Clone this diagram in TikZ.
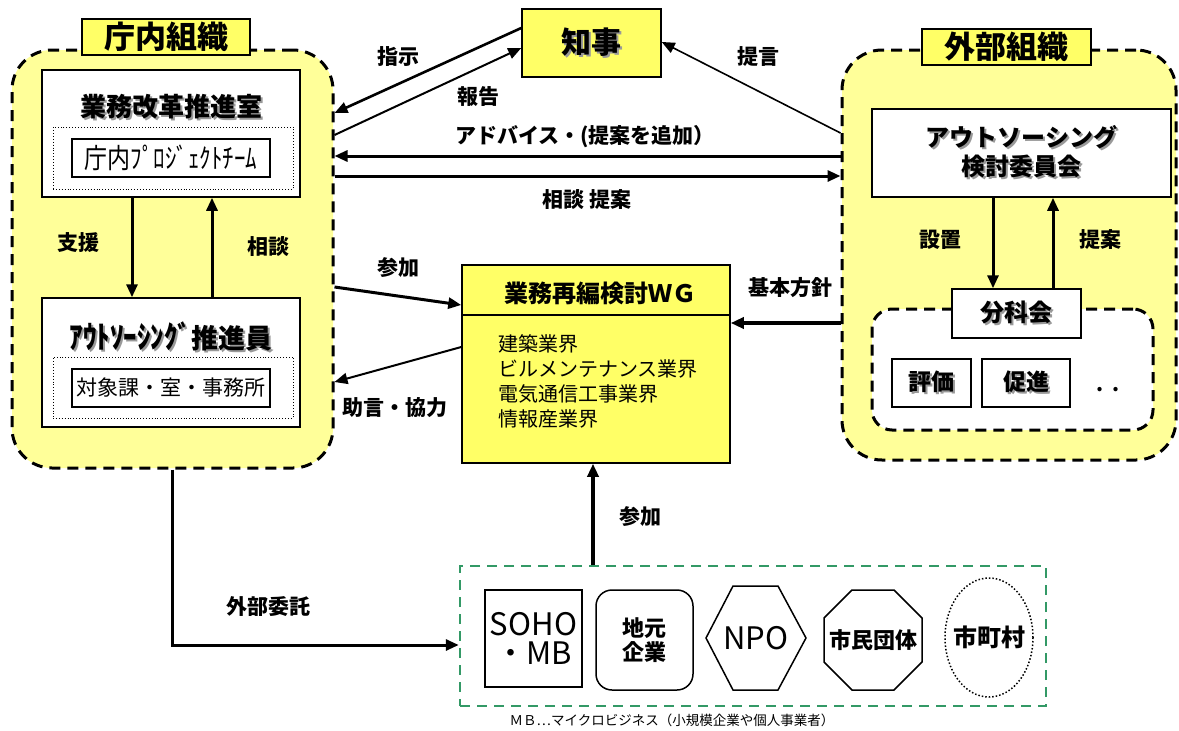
\documentclass[tikz,border=0pt]{standalone}
\usepackage{fontspec}
\setmainfont{Noto Sans CJK JP}
\usetikzlibrary{arrows.meta}
\definecolor{ly}{RGB}{255,255,153}
\definecolor{dy}{RGB}{255,255,102}
\definecolor{gr}{RGB}{51,153,102}
\newcommand{\fs}[1]{\fontsize{#1}{#1}\selectfont}
\newcommand{\shd}[1]{\makebox[0pt][l]{\hspace{2pt}\raisebox{-2pt}{\textcolor{black!40}{#1}}}#1}
\tikzset{
  cont/.style={draw, line width=3pt, dash pattern=on 11pt off 7pt, fill=ly, rounded corners=40pt, inner sep=0pt},
  wbox/.style={draw, fill=white, line width=1.5pt, inner sep=0pt},
  ybox/.style={draw, fill=dy, line width=1.5pt, inner sep=0pt},
  dotbox/.style={draw, dotted, line width=0.9pt, inner sep=0pt},
  arr/.style={-{Triangle[length=13pt,width=11pt]}, line width=3pt},
  tarr/.style={-{Triangle[length=13pt,width=11pt]}, line width=1.6pt},
  lab/.style={font=\fs{21}\bfseries},
  shp/.style={draw, line width=1.5pt, fill=white},
}
\begin{document}
\begin{tikzpicture}[x=1pt,y=-1pt]
\useasboundingbox (0,0) rectangle (1179,731);
% y/x levels
\foreach \v in {28,113,135,133,42,48,156,176,287,305,347,382,323,315,645}{\coordinate (y\v) at (0,\v);}
\coordinate (x593) at (593,0);

% ---------- left container ----------
\node[cont, minimum width=321pt, minimum height=418pt] (lc) at (172.5,259) {};
\node[ybox, minimum width=168pt, minimum height=36pt, font=\fs{31}\bfseries] (lct) at (166,37) {庁内組織};

\node[wbox, minimum width=258pt, minimum height=127pt] (b1) at (171,133.5) {};
\node[font=\fs{26}\bfseries] (b1t) at (171,108) {\shd{業務改革推進室}};
\node[dotbox, minimum width=240pt, minimum height=62pt] (b1d) at (173,158) {};
\node[wbox, minimum width=198pt, minimum height=38pt, font=\fs{23}] (b1i) at (171,158) {\scalebox{1}[1.2]{庁内ﾌﾟﾛｼﾞｪｸﾄﾁｰﾑ}};

\node[wbox, minimum width=258pt, minimum height=129pt] (b2) at (171,362.5) {};
\node[font=\fs{27}\bfseries] (b2t) at (171,337) {\shd{\scalebox{1}[1.15]{ｱｳﾄｿｰｼﾝｸﾞ}推進員}};
\node[dotbox, minimum width=240pt, minimum height=61pt] (b2d) at (173,387.5) {};
\node[wbox, minimum width=198pt, minimum height=38pt, font=\fs{21}] (b2i) at (171,388) {対象課・室・事務所};

\draw[arr] ([xshift=-39pt]b1.south) -- ([xshift=-39pt]b2.north);
\draw[arr] ([xshift=41pt]b2.north) -- ([xshift=41pt]b1.south);
\node[lab] (l1) at (78,243) {支援};
\node[lab] (l2) at (268,247) {相談};

% ---------- governor ----------
\node[ybox, minimum width=139pt, minimum height=68pt, font=\fs{30}\bfseries] (chiji) at (591.5,43) {\shd{知事}};

% ---------- right container ----------
\node[cont, minimum width=334pt, minimum height=410pt] (rc) at (1009,255) {};
\node[ybox, minimum width=169pt, minimum height=36pt, font=\fs{31}\bfseries] (rct) at (1006.5,47) {外部組織};
\node[wbox, minimum width=299pt, minimum height=88pt] (iin) at (1021.5,153) {};
\node[font=\fs{24}\bfseries, align=center] (iint) at (1021.5,153) {\shd{アウトソーシング}\\[3pt]\shd{検討委員会}};
\node[draw, line width=3pt, dash pattern=on 11pt off 7pt, fill=white, rounded corners=20pt, minimum width=281pt, minimum height=121pt, inner sep=0pt] (sub) at (1012.5,369.5) {};
\node[wbox, minimum width=129pt, minimum height=49pt, font=\fs{24}\bfseries] (bun) at (1016.5,313.5) {\shd{分科会}};
\node[wbox, minimum width=79pt, minimum height=48pt, font=\fs{23}\bfseries] (hyo) at (931.5,383) {\shd{評価}};
\node[wbox, minimum width=88pt, minimum height=48pt, font=\fs{23}\bfseries] (soku) at (1026,383) {\shd{促進}};
\node[font=\fs{20}\bfseries] (dots) at (1108,390) {.\hspace{8pt}.};
\draw[arr] ([xshift=-28.5pt]iin.south) -- ([xshift=-23.5pt]bun.north);
\draw[arr] ([xshift=36.5pt]bun.north) -- ([xshift=31.5pt]iin.south);
\node[lab] (l3) at (940,240) {設置};
\node[lab] (l4) at (1100,240) {提案};

% ---------- WG ----------
\node[ybox, minimum width=268pt, minimum height=198pt] (wg) at (596,364) {};
\draw[line width=1.5pt] (wg.west |- y315) -- (wg.east |- y315);
\node[font=\fs{24}\bfseries] (wgt) at (600,293) {業務再編検討ＷＧ};
\node[anchor=west, font=\fs{20}, align=left, inner sep=0pt] (wgl) at (498,381)
  {建築業界\\[5pt]ビルメンテナンス業界\\[5pt]電気通信工事業界\\[5pt]情報産業界};

% ---------- connectors ----------
\draw[arr, line width=2.6pt] ([yshift=15pt]chiji.west) -- (lc.east |- y113);
\draw[arr, line width=2pt] (lc.east |- y135) -- ([yshift=-5pt]chiji.west);
\draw[tarr] (rc.west |- y133) -- (chiji.east |- y42);
\draw[arr] (rc.west |- y156) -- (lc.east |- y156);
\draw[arr] (lc.east |- y176) -- (rc.west |- y176);
\draw[arr] (lc.east |- y287) -- (wg.west |- y305);
\draw[tarr, line width=2pt] (wg.west |- y347) -- (lc.east |- y382);
\draw[arr, line width=4pt] (rc.west |- y323) -- (wg.east |- y323);

\node[lab] (l5) at (398,57) {指示};
\node[lab] (l6) at (478,97) {報告};
\node[lab] (l7) at (758,57) {提言};
\node[lab] (l8) at (585,137) {アドバイス・(提案を追加）};
\node[lab] (l9) at (587,200) {相談 提案};
\node[lab] (l10) at (398,268) {参加};
\node[lab] (l11) at (790,288) {基本方針};
\node[lab] (l12) at (395,408) {助言・協力};
\node[lab] (l13) at (640,517) {参加};
\node[lab] (l14) at (268,607) {外部委託};

% ---------- bottom group ----------
\node[draw=gr, line width=2.5pt, dash pattern=on 10pt off 7pt, minimum width=586pt, minimum height=140pt, inner sep=0pt] (grp) at (753,636) {};
\draw[arr, line width=4pt] (grp.north -| x593) -- (wg.south -| x593);
\draw[arr] (lc.south) |- (grp.west |- y645);

\node[shp, minimum width=97pt, minimum height=97pt, inner sep=0pt, align=center, font=\fs{31}] (soho) at (533.5,638.5) {SOHO\\[-2pt]・MB};
\node[shp, rounded corners=16pt, minimum width=97pt, minimum height=100pt, inner sep=0pt, align=center, font=\fs{22}\bfseries] (jimoto) at (644.5,640) {地元\\[2pt]企業};
\draw[shp] (706,638) -- (733,586) -- (778,586) -- (806,638) -- (778,690) -- (733,690) -- cycle;
\node[font=\fs{31}] (npo) at (756,638) {NPO};
\draw[shp] (852,590) -- (894,590) -- (922,618) -- (922,662) -- (894,690) -- (852,690) -- (824,662) -- (824,618) -- cycle;
\node[font=\fs{22}\bfseries] (shimin) at (873,640) {市民団体};
\draw[dotted, line width=1.5pt] (989,637.5) ellipse [x radius=44, y radius=59.5];
\node[font=\fs{24}\bfseries] (shicho) at (989,637) {市町村};

\node[font=\fs{13.5}] (cap) at (672,720) {ＭＢ…マイクロビジネス（小規模企業や個人事業者）};
\end{tikzpicture}
\end{document}
